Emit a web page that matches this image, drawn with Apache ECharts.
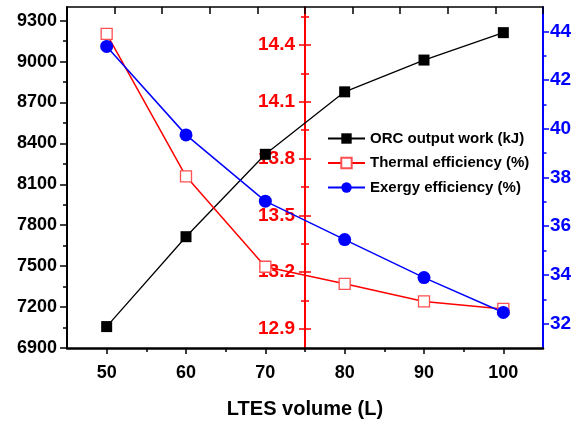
<!DOCTYPE html>
<html>
<head>
<meta charset="utf-8">
<script src="https://cdn.jsdelivr.net/npm/echarts@6/dist/echarts.min.js"></script>
<style>html,body{margin:0;padding:0;background:#fff}#c{width:581px;height:425px}</style>
</head>
<body>
<div id="c"></div>
<script>
// ---- data ----
var volumes = [50, 60, 70, 80, 90, 100];
var orcWork = [7057, 7716, 8320, 8778, 9011, 9212];
var thermalEff = [14.458, 13.706, 13.229, 13.139, 13.046, 13.006];
var exergyEff = [43.38, 39.75, 37.03, 35.45, 33.89, 32.46];

var xTicks = [50, 60, 70, 80, 90, 100];
var xMinorTicks = [55, 65, 75, 85, 95];
var leftTicks = [6900, 7200, 7500, 7800, 8100, 8400, 8700, 9000, 9300];
var leftMinorTicks = [7050, 7350, 7650, 7950, 8250, 8550, 8850, 9150];
var redTicks = [12.9, 13.2, 13.5, 13.8, 14.1, 14.4];
var redMinorTicks = [13.05, 13.35, 13.65, 13.95, 14.25, 14.55];
var blueTicks = [32, 34, 36, 38, 40, 42, 44];
var blueMinorTicks = [33, 35, 37, 39, 41, 43];
var redAxisAt = 75;

var FONT = 'Liberation Sans, Arial, sans-serif';
function pairs(xs, ys){ return xs.map(function(x,i){ return [x, ys[i]]; }); }
function plain(v){ return String(v); }

var chart = echarts.init(document.getElementById('c'), null, {renderer:'canvas'});

function redAxis(ticks, inside, len, labels, offset){
  return {
    type:'value', position:'left', min:12.8, max:14.6, offset: offset,
    axisLine:{show:labels, onZero:false, lineStyle:{color:'#ff0000', width:2}},
    axisTick:{show:true, inside:inside, length:len, customValues:ticks, lineStyle:{color:'#ff0000', width:1.5}},
    axisLabel:{show:labels, customValues:ticks, formatter:plain, margin:10, color:'#ff0000', fontWeight:'bold', fontSize:19, fontFamily:FONT},
    splitLine:{show:false}
  };
}

function buildOption(redOffset){
  return {
    animation:false,
    backgroundColor:'#fff',
    grid:{left:67, top:7, right:38, bottom:77, containLabel:false},
    legend:{
      orient:'vertical', left:327, top:131, padding:0,
      itemWidth:37, itemHeight:13, itemGap:9.5,
      textStyle:{fontSize:15, fontWeight:'bold', color:'#000', fontFamily:FONT, padding:[0,0,0,0]},
      data:['ORC output work (kJ)','Thermal efficiency (%)','Exergy efficiency (%)']
    },
    xAxis:[
      {type:'value', position:'bottom', min:45, max:105,
       axisLine:{onZero:false, lineStyle:{color:'#000', width:2.5}},
       axisTick:{customValues:xTicks, length:6, lineStyle:{color:'#000', width:1.5}},
       axisLabel:{customValues:xTicks, formatter:plain, margin:16, color:'#000', fontWeight:'bold', fontSize:18, fontFamily:FONT},
       splitLine:{show:false},
       name:'LTES volume (L)', nameLocation:'middle', nameGap:51,
       nameTextStyle:{color:'#000', fontWeight:'bold', fontSize:20, fontFamily:FONT}},
      {type:'value', position:'bottom', min:45, max:105,
       axisLine:{show:false, onZero:false},
       axisTick:{customValues:xMinorTicks, length:4, lineStyle:{color:'#000', width:1.5}},
       axisLabel:{show:false}, splitLine:{show:false}},
      {type:'value', position:'top', min:0, max:10, interval:1,
       axisLine:{onZero:false, lineStyle:{color:'#000', width:1.5}},
       axisTick:{inside:true, length:7, lineStyle:{color:'#000', width:1.5}},
       axisLabel:{show:false}, splitLine:{show:false}}
    ],
    yAxis:[
      {type:'value', position:'left', min:6900, max:9400,
       axisLine:{onZero:false, lineStyle:{color:'#000', width:2}},
       axisTick:{customValues:leftTicks, length:7, lineStyle:{color:'#000', width:1.5}},
       axisLabel:{customValues:leftTicks, formatter:plain, margin:10, color:'#000', fontWeight:'bold', fontSize:18, fontFamily:FONT},
       splitLine:{show:false}},
      {type:'value', position:'left', min:6900, max:9400,
       axisLine:{show:false, onZero:false},
       axisTick:{customValues:leftMinorTicks, length:4, lineStyle:{color:'#000', width:1.5}},
       axisLabel:{show:false}, splitLine:{show:false}},
      redAxis(redTicks, false, 6, true, redOffset),
      redAxis(redTicks, true, 6, false, redOffset),
      redAxis(redMinorTicks, false, 4, false, redOffset),
      redAxis(redMinorTicks, true, 4, false, redOffset),
      {type:'value', position:'right', min:31, max:45,
       axisLine:{onZero:false, lineStyle:{color:'#0000ff', width:2}},
       axisTick:{customValues:blueTicks, length:6, lineStyle:{color:'#0000ff', width:1.5}},
       axisLabel:{customValues:blueTicks, formatter:plain, margin:7, color:'#0000ff', fontWeight:'bold', fontSize:19, fontFamily:FONT},
       splitLine:{show:false}},
      {type:'value', position:'right', min:31, max:45,
       axisLine:{show:false, onZero:false},
       axisTick:{customValues:blueMinorTicks, length:3.5, lineStyle:{color:'#0000ff', width:1.5}},
       axisLabel:{show:false}, splitLine:{show:false}}
    ],
    series:[
      {name:'ORC output work (kJ)', type:'line', xAxisIndex:0, yAxisIndex:0,
       data:pairs(volumes, orcWork), symbol:'rect', symbolSize:11,
       itemStyle:{color:'#000'}, lineStyle:{color:'#000', width:1.3}},
      {name:'Thermal efficiency (%)', type:'line', xAxisIndex:0, yAxisIndex:2,
       data:pairs(volumes, thermalEff), symbol:'rect', symbolSize:11,
       itemStyle:{color:'#fff', borderColor:'#ff5050', borderWidth:1.3},
       lineStyle:{color:'#ff0000', width:1.5}},
      {name:'Exergy efficiency (%)', type:'line', xAxisIndex:0, yAxisIndex:6,
       data:pairs(volumes, exergyEff), symbol:'circle', symbolSize:13,
       itemStyle:{color:'#0000ff'}, lineStyle:{color:'#0000ff', width:1.5}}
    ]
  };
}

chart.setOption(buildOption(0));
var px = chart.convertToPixel({xAxisIndex:0}, redAxisAt);
var gridLeft = 67;
chart.setOption(buildOption(-(px - gridLeft)));
</script>
</body>
</html>
